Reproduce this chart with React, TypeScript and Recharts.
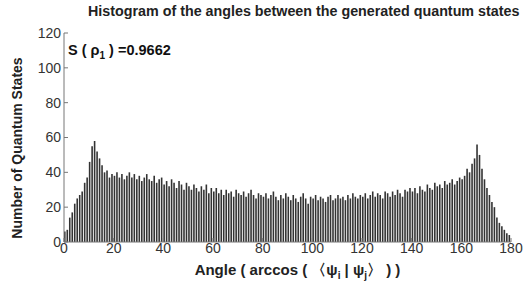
import React from 'react';
import { BarChart, Bar, XAxis, YAxis } from 'recharts';

const counts: number[] = [
  6, 7, 14, 17, 22, 25, 27, 29, 34, 37,
  46, 55, 58, 52, 48, 44, 40, 41, 37, 39,
  38, 40, 37, 39, 36, 38, 40, 37, 39, 36,
  38, 35, 37, 39, 36, 35, 38, 34, 36, 37,
  33, 35, 32, 36, 34, 31, 35, 33, 30, 34,
  32, 30, 33, 31, 29, 32, 30, 33, 28, 31,
  29, 31, 28, 30, 27, 30, 28, 29, 26, 30,
  28, 27, 29, 26, 28, 30, 27, 25, 28, 27,
  26, 28, 25, 27, 29, 26, 24, 27, 25, 28,
  26, 24, 27, 25, 23, 26, 28, 25, 22, 26,
  25, 27, 24, 26, 25, 23, 26, 27, 24, 25,
  27, 25, 26, 24, 27, 25, 28, 26, 25, 27,
  26, 28, 25, 27, 29, 26, 28, 27, 25, 29,
  28, 26, 29, 27, 30, 28, 26, 30, 29, 31,
  29, 31, 28, 32, 30, 29, 33, 31, 30, 34,
  32, 33, 31, 35, 33, 34, 36, 33, 35, 37,
  36, 38, 42, 40, 45, 48, 56, 50, 42, 36,
  31, 27, 23, 20, 14, 11, 9, 7, 5, 4,
];
const binStarts: number[] = counts.map((_, i) => i);
const xTicks: number[] = [0, 20, 40, 60, 80, 100, 120, 140, 160, 180];
const yTicks: number[] = [0, 20, 40, 60, 80, 100, 120];

const data = binStarts.map((b, i) => ({ angle: b + 0.5, count: counts[i] }));

const font = '"Liberation Sans", Arial, sans-serif';
const axisColor = '#777';
const tickStyle = { fill: '#333', fontSize: 14, fontFamily: font };

export default function App() {
  return (
    <div style={{ position: 'absolute', left: 0, top: 0, width: 525, height: 288, background: '#fff', fontFamily: font }}>
      <BarChart width={525} height={288} data={data} margin={{ top: 33, right: 14, bottom: 24, left: 0 }}>
        <XAxis
          dataKey="angle"
          type="number"
          domain={[0, 180]}
          ticks={xTicks}
          interval={0}
          height={22}
          tick={tickStyle}
          tickSize={-4}
          tickMargin={5}
          tickLine={{ stroke: axisColor }}
          axisLine={{ stroke: axisColor }}
          allowDataOverflow
        />
        <XAxis
          xAxisId="top"
          orientation="top"
          type="number"
          domain={[0, 180]}
          ticks={xTicks}
          height={0}
          tick={false}
          tickSize={-4}
          tickLine={{ stroke: axisColor }}
          axisLine={{ stroke: axisColor }}
        />
        <YAxis
          type="number"
          domain={[0, 120]}
          ticks={yTicks}
          interval={0}
          width={64}
          tick={tickStyle}
          tickSize={-4}
          tickMargin={7}
          tickLine={{ stroke: axisColor }}
          axisLine={{ stroke: axisColor }}
        />
        <YAxis
          yAxisId="right"
          orientation="right"
          type="number"
          domain={[0, 120]}
          ticks={yTicks}
          width={0}
          tick={false}
          tickSize={-4}
          tickLine={{ stroke: axisColor }}
          axisLine={{ stroke: axisColor }}
        />
        <Bar dataKey="count" fill="#333" barSize={1.6} isAnimationActive={false} />
      </BarChart>
      <div style={{ position: 'absolute', left: 88, top: 3, fontSize: 14.3, fontWeight: 'bold', color: '#222', whiteSpace: 'nowrap' }}>
        Histogram of the angles between the generated quantum states
      </div>
      <div style={{ position: 'absolute', left: 68, top: 42, fontSize: 14.5, fontWeight: 'bold', color: '#111', whiteSpace: 'nowrap' }}>
        S ( ρ<sub style={{ fontSize: 10 }}>1</sub> ) =0.9662
      </div>
      <div style={{ position: 'absolute', left: 74, width: 447, top: 261, textAlign: 'center', fontSize: 15, fontWeight: 'bold', color: '#222', whiteSpace: 'nowrap' }}>
        Angle ( arccos ( 〈ψ<sub style={{ fontSize: 10 }}>i</sub> | ψ<sub style={{ fontSize: 10 }}>j</sub>〉 ) )
      </div>
      <div style={{ position: 'absolute', left: 17, top: 148, width: 0, height: 0 }}>
        <div style={{ position: 'absolute', left: 0, top: 0, transform: 'translate(-50%, -50%) rotate(-90deg)', fontSize: 14, fontWeight: 'bold', color: '#222', whiteSpace: 'nowrap' }}>
          Number of Quantum States
        </div>
      </div>
    </div>
  );
}
